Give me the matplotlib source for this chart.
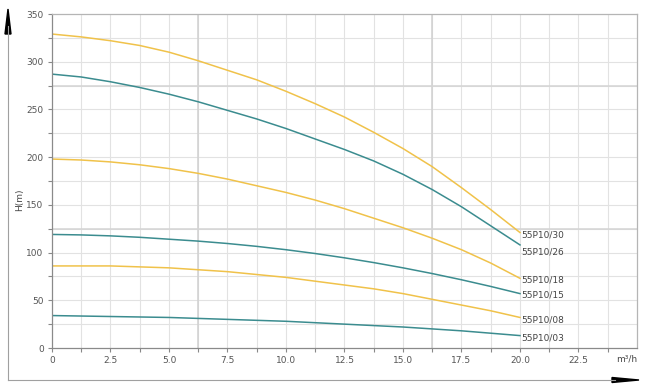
import numpy as np
import matplotlib.pyplot as plt
from matplotlib.ticker import FixedLocator

# flow (m3/h) and head (m)
flow = [0, 1.25, 2.5, 3.75, 5, 6.25, 7.5, 8.75, 10, 11.25, 12.5, 13.75, 15,
        16.25, 17.5, 18.75, 20]
h_30 = [329, 326, 322, 317, 310, 301, 291, 281, 269, 256, 242, 226, 209, 190, 168, 145, 121]
h_26 = [287, 284, 279, 273, 266, 258, 249, 240, 230, 219, 208, 196, 182, 166, 148, 128, 108]
h_18 = [198, 197, 195, 192, 188, 183, 177, 170, 163, 155, 146, 136, 126, 115, 103, 89, 73]
h_15 = [119, 118.5, 117.5, 116, 114, 112, 109.5, 106.5, 103, 99, 94.5, 89.5, 84, 78, 71.5, 64.5, 57]
h_08 = [86, 86, 86, 85, 84, 82, 80, 77, 74, 70, 66, 62, 57, 51, 45, 39, 32]
h_03 = [34, 33.5, 33, 32.5, 32, 31, 30, 29, 28, 26.5, 25, 23.5, 22, 20, 18, 15.5, 13]

names = ['55P10/30', '55P10/26', '55P10/18', '55P10/15', '55P10/08', '55P10/03']
heads = [h_30, h_26, h_18, h_15, h_08, h_03]

yellow = '#f0c24a'
teal = '#3b8c8f'
colors = [yellow, teal, yellow, teal, yellow, teal]

x_ticks = [0, 2.5, 5, 7.5, 10, 12.5, 15, 17.5, 20, 22.5]
x_labels = ['0', '2.5', '5.0', '7.5', '10.0', '12.5', '15.0', '17.5', '20.0', '22.5']
y_ticks = [0, 50, 100, 150, 200, 250, 300, 350]

plt.rcParams['font.family'] = ['DejaVu Sans']

fig = plt.figure(figsize=(6.45, 3.86), dpi=100)
ax = fig.add_axes([52/645, 38/386, 585/645, 334/386])

ax.set_xlim(0, 25)
ax.set_ylim(0, 350)

# grid
for gx in np.arange(1.25, 25, 1.25):
    ax.axvline(gx, color='#e2e2e2', lw=0.8, zorder=0)
for gy in np.arange(25, 350, 25):
    ax.axhline(gy, color='#e2e2e2', lw=0.8, zorder=0)
for gx in [6.25, 16.25]:
    ax.axvline(gx, color='#d0d0d0', lw=1.1, zorder=0)
for gy in [125, 275]:
    ax.axhline(gy, color='#d4d4d4', lw=1.1, zorder=0)

for name, h, c in zip(names, heads, colors):
    ax.plot(flow, h, color=c, lw=1.1, zorder=2, solid_joinstyle='round')

label_y = [118, 101, 71, 56, 29, 11]
for name, ly in zip(names, label_y):
    ax.text(flow[-1] + 0.05, ly, name, fontsize=6.5, color='#444444',
            va='center', ha='left')

ax.set_xticks(x_ticks)
ax.set_xticklabels(x_labels)
ax.set_yticks(y_ticks)
ax.xaxis.set_minor_locator(FixedLocator(np.arange(1.25, 25, 2.5)))
ax.yaxis.set_minor_locator(FixedLocator(np.arange(25, 350, 50)))
ax.tick_params(axis='both', which='major', labelsize=6.5, labelcolor='#555555',
               color='#888888', length=3, width=0.8, pad=3)
ax.tick_params(axis='both', which='minor', color='#888888', length=3, width=0.8)
ax.text(25, -0.018, 'm³/h', transform=ax.get_xaxis_transform(), ha='right',
        va='top', fontsize=6.5, color='#444444')

for s in ['left', 'bottom']:
    ax.spines[s].set_color('#8a8a8a')
    ax.spines[s].set_linewidth(0.9)
for s in ['top', 'right']:
    ax.spines[s].set_color('#b5b5b5')
    ax.spines[s].set_linewidth(0.9)

fig.text(20/645, 1 - 200/386, 'H(m)', rotation=90, fontsize=6.5,
         color='#444444', ha='center', va='center')

# outer frame arrows
fig.add_artist(plt.Line2D([8/645, 8/645], [6/386, 360/386], color='#a0a0a0',
                          lw=0.8, transform=fig.transFigure))
fig.add_artist(plt.Line2D([8/645, 615/645], [6/386, 6/386], color='#a0a0a0',
                          lw=0.8, transform=fig.transFigure))
fig.add_artist(plt.Polygon([[5/645, 352/386], [11/645, 352/386], [8/645, 377/386]],
                           closed=True, color='black', transform=fig.transFigure))
fig.add_artist(plt.Polygon([[612/645, 3.5/386], [612/645, 8.5/386], [639/645, 6/386]],
                           closed=True, color='black', transform=fig.transFigure))

fig.savefig('out.png', dpi=100)
